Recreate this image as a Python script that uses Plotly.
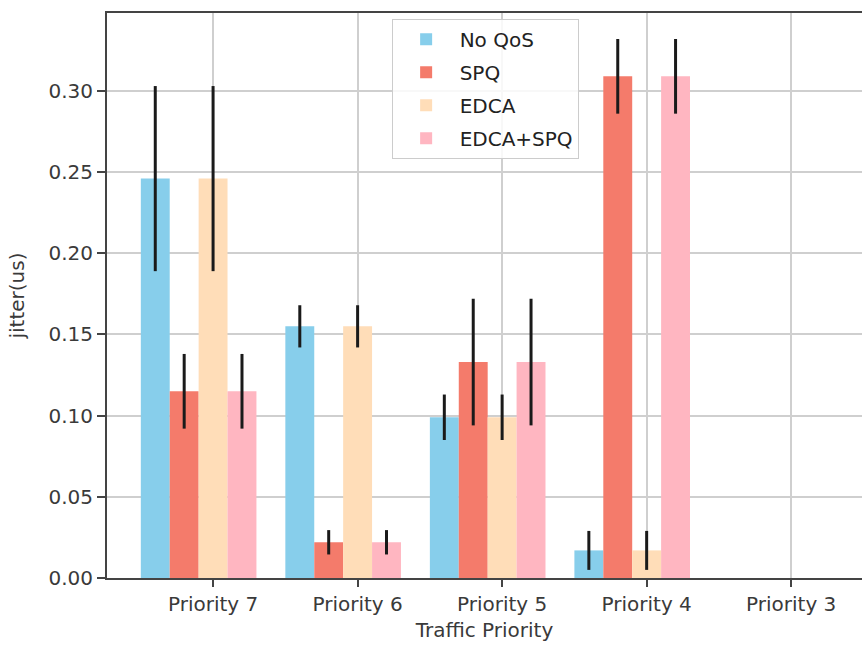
import plotly.graph_objects as go

categories = ["Priority 7", "Priority 6", "Priority 5", "Priority 4", "Priority 3"]
positions = [0, 1, 2, 3, 4]
series_names = ["No QoS", "SPQ", "EDCA", "EDCA+SPQ"]
no_qos = [0.246, 0.155, 0.099, 0.017, 0.0]
spq = [0.115, 0.022, 0.133, 0.309, 0.0]
edca = [0.246, 0.155, 0.099, 0.017, 0.0]
edca_spq = [0.115, 0.022, 0.133, 0.309, 0.0]
err_no_qos = [0.057, 0.013, 0.014, 0.012, 0.0]
err_spq = [0.023, 0.0075, 0.039, 0.023, 0.0]
err_edca = [0.057, 0.013, 0.014, 0.012, 0.0]
err_edca_spq = [0.023, 0.0075, 0.039, 0.023, 0.0]
y_ticks = [0.0, 0.05, 0.10, 0.15, 0.20, 0.25, 0.30]

values = [no_qos, spq, edca, edca_spq]
errors = [err_no_qos, err_spq, err_edca, err_edca_spq]
colors = ["#87CEEB", "#F47B6B", "#FFDDB8", "#FFB6C1"]
offsets = [-0.5, -0.3, -0.1, 0.1]

fig = go.Figure()
for i, name in enumerate(series_names):
    fig.add_trace(go.Bar(
        x=positions, y=values[i], name=name,
        marker=dict(color=colors[i], line=dict(width=0)),
        width=0.2, offset=offsets[i],
        legendgroup=name,
        error_y=dict(type="data", array=errors[i], visible=True,
                     color="#1a1a1a", thickness=3, width=0),
    ))

axis_color = "#444444"
fig.update_layout(
    width=862, height=648,
    margin=dict(l=107, r=0, t=13, b=70),
    plot_bgcolor="white", paper_bgcolor="white",
    font=dict(family="DejaVu Sans", size=20, color="#3a3a3a"),
    barmode="overlay",
    showlegend=True,
    legend=dict(
        x=0.377, y=0.99, xanchor="left", yanchor="top",
        bgcolor="rgba(255,255,255,0.85)", bordercolor="#cccccc", borderwidth=1,
        font=dict(size=20, color="#222222"),
        tracegroupgap=4, itemwidth=57,
    ),
    xaxis=dict(
        tickmode="array", tickvals=positions, ticktext=categories,
        range=[-0.734, 4.49],
        showgrid=True, gridcolor="#cfcfcf", gridwidth=1.5,
        showline=True, linecolor=axis_color, linewidth=2, mirror=True,
        ticks="outside", ticklen=7, tickcolor=axis_color, tickwidth=1.5,
        title=dict(text="Traffic Priority", font=dict(size=20), standoff=8),
        zeroline=False,
    ),
    yaxis=dict(
        range=[0, 0.348],
        tickmode="array", tickvals=y_ticks, tickformat=".2f",
        showgrid=True, gridcolor="#cfcfcf", gridwidth=1.5,
        showline=True, linecolor=axis_color, linewidth=2, mirror=False,
        ticks="outside", ticklen=8, tickcolor=axis_color, tickwidth=1.5,
        title=dict(text="jitter(us)", font=dict(size=20), standoff=18),
        zeroline=False,
    ),
)

fig.write_html("out.html")
